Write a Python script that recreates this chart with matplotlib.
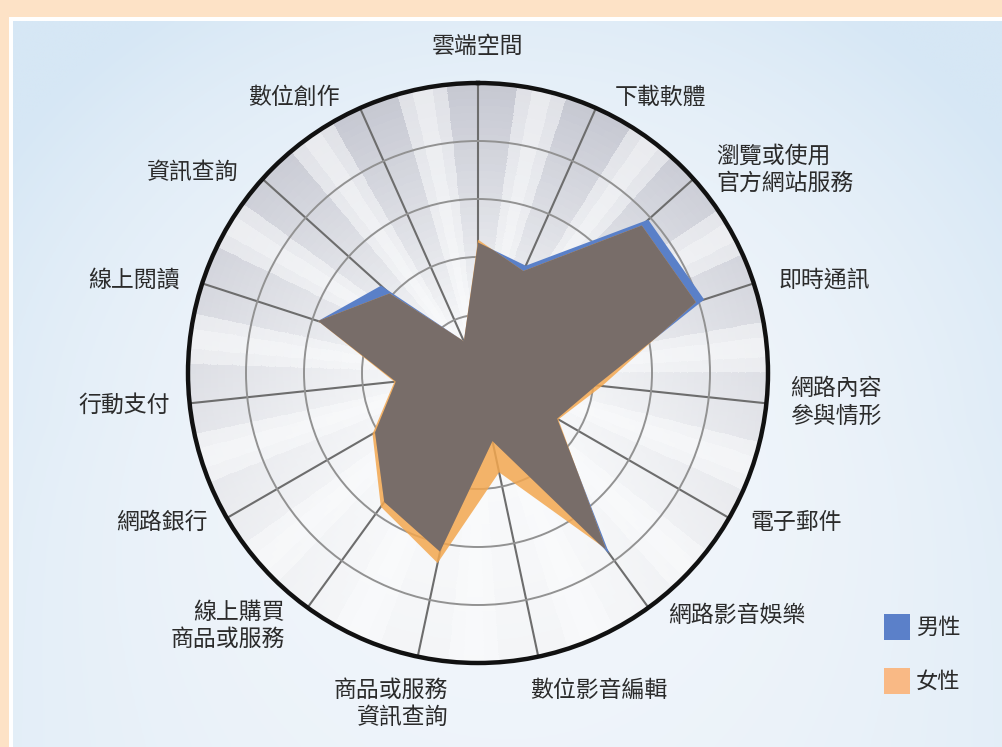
import numpy as np
import matplotlib
matplotlib.use("Agg")
import matplotlib.pyplot as plt
from matplotlib.patches import Rectangle
from matplotlib.colors import LinearSegmentedColormap

plt.rcParams['font.family'] = ['Noto Sans CJK TC', 'DejaVu Sans']

# ---------------- data ----------------
categories = ['雲端空間', '下載軟體', '瀏覽或使用\n官方網站服務', '即時通訊',
              '網路內容\n參與情形', '電子郵件', '網路影音娛樂', '數位影音編輯',
              '商品或服務\n資訊查詢', '線上購買\n商品或服務', '網路銀行', '行動支付',
              '線上閱讀', '資訊查詢', '數位創作']
male = [45, 40.5, 79, 82, 41, 31.5, 77, 24, 63, 55, 41, 28.5, 58, 45, 12]
female = [46, 38.5, 76, 79, 43, 32, 75, 35, 67, 57, 42, 29, 58, 41, 12]
series_names = ['男性', '女性']
ring_ticks = [20, 40, 60, 80]

# ---------------- layout helpers ----------------
W, H = 1003, 747
fig = plt.figure(figsize=(W / 100, H / 100), dpi=100)
fig.patch.set_facecolor('#fde2c6')


def fx(px):
    return px / W


def fy(py):
    return 1 - py / H


# panel: white border + light blue gradient
fig.add_artist(Rectangle((fx(9), 0), 1 - fx(9), fy(17), transform=fig.transFigure,
                         facecolor='white', edgecolor='none', zorder=0))
bg = fig.add_axes([fx(13), 0, 1 - fx(13), fy(21)])
bg.set_axis_off()
yy, xx = np.mgrid[0:1:300j, 0:1:300j]
d = np.sqrt(((xx - 0.5) / 0.62) ** 2 + ((yy - 0.6) / 0.75) ** 2)
t = np.clip(d, 0, 1) ** 2.2
t = t * (1 - 0.45 * np.clip(yy - 0.55, 0, 1) / 0.45)  # lighter toward bottom
edge = np.array([214, 231, 245]) / 255
cent = np.array([242, 246, 251]) / 255
img = cent[None, None, :] * (1 - t[..., None]) + edge[None, None, :] * t[..., None]
bg.imshow(img, extent=[0, 1, 0, 1], aspect='auto', origin='upper')
bg.set_xlim(0, 1)
bg.set_ylim(0, 1)

# ---------------- radar ----------------
cx, cy, R = 478, 373, 290
ax = fig.add_axes([fx(cx - R), fy(cy + R), 2 * R / W, 2 * R / H], projection='polar')
ax.set_theta_zero_location('N')
ax.set_theta_direction(-1)
ax.set_ylim(0, 100)
ax.set_facecolor('none')

n = len(categories)
theta = np.deg2rad(np.arange(n) * 360.0 / n)

# decorative shaded background
tg = np.linspace(0, 2 * np.pi, 361)
rg = np.linspace(0, 100, 41)
TT, RR = np.meshgrid(tg, rg)
tc = 0.5 * (TT[:-1, :-1] + TT[1:, 1:])
rc = 0.5 * (RR[:-1, :-1] + RR[1:, 1:])
phi = np.rad2deg(tc)
s = (phi % 24) / 24.0
stripe = np.where((s > 0.35) & (s < 0.75), 0.3, 1.0)
stripe = np.where((s > 0.45) & (s < 0.62), 0.05, stripe)
glob = np.clip(0.55 + 0.5 * np.cos(tc), 0.12, 1)
rad = np.clip((rc / 100.0 - 0.12) / 0.88, 0, 1) ** 0.9
dark = rad * glob * (0.3 + 0.7 * stripe)
cmap = LinearSegmentedColormap.from_list('sh', ['#fafbfc', '#c6c8d2'])
mesh = ax.pcolormesh(TT, RR, dark, cmap=cmap, vmin=0, vmax=1, shading='flat',
                     zorder=0.1, antialiased=False, edgecolors='face', linewidth=0.3)

ax.set_xticks(theta)
ax.set_xticklabels([])
ax.set_yticks(ring_ticks)
ax.set_yticklabels([])
ax.set_axisbelow(True)
ax.xaxis.grid(True, color='#6d6d6d', lw=1.5)
ax.yaxis.grid(True, color='#929292', lw=1.4)
ax.spines['polar'].set_linewidth(3.2)
ax.spines['polar'].set_color('#111111')
ax.spines['polar'].set_zorder(10)

tc_closed = np.append(theta, theta[0])
m_closed = np.append(male, male[0])
f_closed = np.append(female, female[0])

blue = '#5a80c8'
orange = '#f3a74f'
gray = '#786d69'

male_patch = ax.fill(tc_closed, m_closed, color=blue, lw=0, zorder=2)[0]
ax.fill(tc_closed, f_closed, color=orange, alpha=0.85, lw=0, zorder=3)
over = ax.fill(tc_closed, f_closed, color=gray, lw=0, zorder=4)[0]
over.set_clip_path(male_patch)

# ---------------- category labels ----------------
label_pos = [(478, 46, 'center'), (615, 97, 'left'), (716, 170, 'left'),
             (778, 280, 'left'), (790, 402, 'left'), (750, 522, 'left'),
             (668, 615, 'left'), (530, 690, 'left'), (448, 704, 'right'),
             (285, 626, 'right'), (208, 522, 'right'), (170, 405, 'right'),
             (180, 280, 'right'), (238, 172, 'right'), (340, 97, 'right')]
for lab, (px, py, ha) in zip(categories, label_pos):
    fig.text(fx(px), fy(py), lab, ha=ha, va='center', multialignment=ha,
             fontsize=16.5, color='#2b2b2b', linespacing=1.25)

# ---------------- legend ----------------
leg_colors = ['#5b80c9', '#f9b985']
leg_y = [627, 681]
for name, col, ly in zip(series_names, leg_colors, leg_y):
    fig.add_artist(Rectangle((fx(884), fy(ly + 13)), 26 / W, 26 / H,
                             transform=fig.transFigure, facecolor=col,
                             edgecolor='none'))
    fig.text(fx(916), fy(ly), name, ha='left', va='center', fontsize=16,
             color='#2b2b2b')

fig.savefig('out.png', dpi=100, facecolor=fig.get_facecolor())
